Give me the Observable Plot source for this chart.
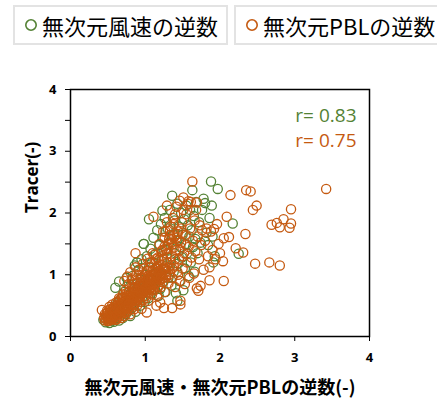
<!DOCTYPE html>
<html><head><meta charset="utf-8">
<script src="https://cdn.jsdelivr.net/npm/d3@7"></script>
<script src="https://cdn.jsdelivr.net/npm/@observablehq/plot@0.6"></script>
<style>
body{margin:0;background:#fff;width:437px;height:400px;overflow:hidden;font-family:"Noto Sans CJK JP",sans-serif;}
#legend{position:relative;height:50px;}
.lg{position:absolute;top:5px;height:36px;border:2px solid #e3e3e3;display:flex;align-items:center;font-size:22px;color:#000;white-space:nowrap;box-sizing:content-box;}
.lg svg{margin:0 4px 0 9px;}
</style></head>
<body>
<div id="legend"></div>
<div id="chart"></div>
<script>
const seriesNames = ["無次元風速の逆数", "無次元PBLの逆数"];
const seriesColors = ["#548235", "#C55A11"];
const rLabels = ["r= 0.83", "r= 0.75"];
const xTicks = [0, 1, 2, 3, 4];
const yTicks = [0, 0.5, 1, 1.5, 2, 2.5, 3, 3.5, 4];

// 無次元風速の逆数 (green)
const windX = [0.44,0.47,0.50,0.52,0.54,0.56,0.58,0.60,0.60,0.62,0.63,0.65,0.65,0.66,0.68,0.70,0.70,0.72,0.74,0.75,0.76,0.78,0.79,0.80,0.81,0.83,0.84,0.85,0.86,0.87,0.88,0.89,0.90,0.91,0.92,0.93,0.94,0.95,0.96,0.97,0.98,0.99,1.00,1.01,1.02,1.03,1.04,1.05,1.05,1.06,1.07,1.08,1.09,1.10,1.11,1.12,1.13,1.14,1.15,1.16,1.17,1.18,1.19,1.20,1.21,1.22,1.23,1.23,1.24,1.25,1.26,1.27,1.28,1.29,1.30,1.31,1.32,1.33,1.34,1.35,1.36,1.37,1.38,1.39,1.40,1.41,1.42,1.43,1.44,1.45,1.46,1.47,1.48,1.49,1.50,1.51,1.52,1.53,1.54,1.55,1.56,1.57,1.58,1.59,1.60,1.61,1.62,1.63,1.64,1.65,1.66,1.67,1.68,1.70,1.72,1.74,1.76,1.78,1.80,1.82,1.84,1.86,1.88,1.89,1.90,1.91,1.93,1.97,2.17,2.25,1.43,1.20,0.89,0.98];
const windY = [0.27,0.23,0.30,0.22,0.36,0.26,0.24,0.79,0.42,0.30,0.55,0.89,0.26,0.38,0.62,0.30,0.48,0.72,0.36,0.95,0.56,0.42,0.80,0.33,0.64,0.98,0.48,0.72,1.15,0.40,0.86,1.20,0.58,1.08,0.70,0.50,0.92,1.25,0.64,0.80,1.50,0.56,1.00,0.74,1.30,0.86,0.62,1.90,1.12,0.94,1.42,0.70,1.20,0.84,1.60,1.02,0.76,1.34,0.92,1.72,1.10,0.66,1.48,1.00,1.82,1.22,2.04,0.88,1.60,1.08,1.92,0.72,1.40,1.15,1.75,0.95,1.52,2.05,1.25,0.82,2.28,1.65,1.05,1.88,1.35,0.70,1.55,2.15,1.18,1.78,0.90,1.45,2.00,1.28,1.65,0.75,1.90,1.10,1.50,2.12,1.35,1.80,0.98,1.62,2.05,1.20,1.72,2.37,1.45,1.95,1.05,1.58,2.18,1.35,1.85,1.52,2.05,2.23,2.16,1.68,1.48,1.92,2.51,2.12,1.62,1.20,1.30,2.39,1.83,1.34,0.58,0.77,1.20,1.50];

// 無次元PBLの逆数 (orange)
const pblX = [0.42,0.45,0.46,0.47,0.48,0.49,0.50,0.50,0.52,0.52,0.53,0.54,0.55,0.55,0.56,0.57,0.58,0.58,0.60,0.60,0.61,0.62,0.63,0.64,0.65,0.66,0.67,0.68,0.69,0.70,0.70,0.72,0.72,0.73,0.74,0.75,0.76,0.77,0.78,0.79,0.80,0.80,0.81,0.82,0.83,0.84,0.85,0.86,0.87,0.88,0.88,0.89,0.90,0.91,0.92,0.93,0.94,0.95,0.96,0.97,0.98,0.99,1.00,1.00,1.01,1.02,1.03,1.04,1.05,1.06,1.07,1.08,1.09,1.10,1.10,1.11,1.12,1.13,1.14,1.15,1.16,1.17,1.18,1.19,1.20,1.21,1.22,1.23,1.24,1.25,1.26,1.27,1.28,1.29,1.30,1.31,1.32,1.33,1.34,1.35,1.36,1.37,1.38,1.39,1.40,1.41,1.42,1.43,1.44,1.45,1.46,1.47,1.48,1.49,1.50,1.51,1.52,1.53,1.54,1.55,1.56,1.57,1.58,1.59,1.60,1.61,1.62,1.63,1.64,1.65,1.66,1.67,1.68,1.69,1.70,1.71,1.72,1.73,1.74,1.75,1.76,1.78,1.80,1.82,1.84,1.86,1.86,1.88,1.90,1.92,1.94,1.96,1.98,2.00,
 0.48,0.50,0.52,0.53,0.55,0.56,0.57,0.59,0.60,0.61,0.62,0.63,0.64,0.66,0.67,0.68,0.69,0.70,0.71,0.72,0.73,0.74,0.75,0.76,0.77,0.78,0.79,0.80,0.81,0.82,0.83,0.84,0.85,0.86,0.87,0.88,0.89,0.90,0.91,0.92,0.93,0.94,0.95,0.96,0.97,0.98,0.99,1.00,1.01,1.02,1.03,1.04,1.05,1.06,1.07,1.08,1.09,1.10,1.11,1.12,1.13,1.14,1.15,1.16,1.17,1.18,1.19,1.20,1.21,1.22,1.23,1.24,1.25,1.26,1.27,1.28,1.29,1.30,1.31,1.32,1.33,1.34,1.35,1.36,1.38,1.40,1.42,1.44,1.46,1.48,1.50,
 0.46,0.49,0.51,0.54,0.57,0.59,0.62,0.64,0.66,0.69,0.71,0.74,0.76,0.79,0.81,0.84,0.86,0.89,0.91,0.94,0.96,0.99,1.01,1.04,1.06,1.09,1.11,1.14,1.16,1.19,1.21,1.24,0.55,0.61,0.67,0.73,0.78,0.84,0.90,0.96,1.02,1.08,1.13,1.18,1.23,1.28,0.65,0.75,0.85,0.95,1.05,1.15,
 0.72,0.76,0.80,0.83,0.87,0.92,0.97,1.03,1.07,1.12,1.17,1.22,1.26,1.31,1.35,1.39,1.43,1.27,1.33,1.38,1.45,1.50,1.55,
 1.02,1.25,1.36,1.47,1.47,1.20,1.15,0.95,0.87,1.11,1.29,1.51,1.58,1.69,1.40,
 3.42,2.95,2.93,2.95,2.85,2.80,2.76,2.69,2.80,2.66,2.47,2.49,2.44,2.41,2.35,2.14,2.09,2.12,2.05,2.04,2.05,2.34,2.31,2.21];
const pblY = [0.43,0.30,0.26,0.34,0.28,0.38,0.31,0.25,0.48,0.29,0.35,0.27,0.41,0.32,0.52,0.29,0.37,0.45,0.33,0.27,0.55,0.40,0.31,0.47,0.36,0.60,0.42,0.30,0.52,0.38,0.68,0.45,0.33,0.58,0.75,0.50,0.40,0.63,0.85,0.47,0.56,0.36,0.70,0.92,0.52,0.62,0.44,0.78,0.58,0.68,1.00,0.50,0.87,0.62,0.74,0.56,0.95,0.68,0.82,0.60,1.10,0.76,0.88,0.66,1.02,0.72,0.94,0.58,0.84,1.20,0.78,0.98,0.68,0.90,1.35,1.08,0.75,0.84,1.25,0.96,0.66,1.14,0.88,1.50,1.02,0.80,1.30,0.94,1.70,1.10,0.72,1.42,1.00,1.85,1.20,0.86,1.58,1.05,1.78,1.30,0.95,1.92,1.15,1.62,0.80,1.40,2.10,1.05,1.70,1.25,2.20,0.90,1.52,1.85,1.10,2.05,1.35,0.85,1.65,1.98,1.20,2.15,1.45,0.95,1.75,2.18,1.28,2.51,1.55,1.02,1.88,1.38,2.05,0.78,1.62,0.74,1.25,1.80,0.82,1.48,1.72,1.08,1.55,1.75,1.30,1.12,0.91,1.70,1.40,1.74,1.25,1.82,1.50,1.35,
 0.33,0.40,0.26,0.44,0.30,0.38,0.47,0.33,0.42,0.50,0.28,0.37,0.55,0.45,0.34,0.52,0.63,0.42,0.56,0.64,0.40,0.50,0.66,0.58,0.46,0.72,0.54,0.64,0.44,0.78,0.60,0.70,0.52,0.86,0.66,0.76,0.58,0.92,0.70,0.82,0.64,0.88,0.76,1.00,0.70,0.86,0.94,0.78,0.62,1.06,0.82,0.98,0.72,0.90,1.12,0.84,1.00,0.76,0.94,1.18,1.04,0.86,1.10,0.98,0.80,1.24,1.06,0.92,1.16,1.02,1.40,0.88,1.24,1.60,1.10,0.96,1.34,1.50,1.12,1.00,1.72,1.20,1.52,1.10,1.82,1.25,1.60,1.00,1.40,1.75,1.30,
 0.36,0.42,0.35,0.40,0.46,0.39,0.49,0.44,0.53,0.57,0.50,0.61,0.56,0.66,0.60,0.71,0.64,0.76,0.69,0.81,0.74,0.85,0.79,0.90,0.84,0.95,0.88,1.00,0.93,1.05,0.98,1.08,0.28,0.34,0.41,0.47,0.52,0.58,0.65,0.72,0.76,0.80,0.88,0.95,1.00,1.05,0.62,0.70,0.80,0.86,0.95,1.02,
 0.90,0.97,1.04,0.94,1.12,1.08,1.18,1.26,1.20,1.32,1.28,1.38,1.46,1.42,1.58,1.50,1.66,1.70,1.64,1.44,1.56,1.68,1.48,
 0.39,0.46,0.46,0.52,0.58,0.55,0.50,0.45,1.35,1.94,2.12,2.25,2.19,2.17,1.98,
 2.39,2.06,1.76,1.83,1.90,1.77,1.84,1.81,1.15,1.20,1.18,2.12,2.05,2.35,2.37,2.29,1.94,1.61,1.59,1.22,0.90,1.66,1.36,1.43];

const wind = windX.map((x, i) => ({x, y: windY[i]}));
const pbl = pblX.map((x, i) => ({x, y: pblY[i]}));

// legend
const legend = document.getElementById("legend");
const boxPos = [{left: 13, width: 211}, {left: 234, width: 220}];
seriesNames.forEach((name, i) => {
  const d = document.createElement("div");
  d.className = "lg";
  d.style.left = boxPos[i].left + "px";
  d.style.width = boxPos[i].width + "px";
  d.innerHTML = `<svg width="14" height="14"><circle cx="7" cy="7" r="5.2" fill="none" stroke="${seriesColors[i]}" stroke-width="1.6"/></svg><span>${name}</span>`;
  legend.appendChild(d);
});

const chart = Plot.plot({
  width: 437,
  height: 350,
  marginTop: 39,
  marginBottom: 64,
  marginLeft: 70,
  marginRight: 68,
  style: {fontFamily: "'Noto Sans CJK JP', sans-serif", fontSize: "13px", color: "#000", background: "#fff"},
  x: {domain: [0, 4]},
  y: {domain: [0, 4]},
  marks: [
    Plot.dot(wind, {x: "x", y: "y", r: 4.6, stroke: seriesColors[0], strokeWidth: 1.3, fill: "none"}),
    Plot.dot(pbl, {x: "x", y: "y", r: 4.6, stroke: seriesColors[1], strokeWidth: 1.3, fill: "none"}),
    Plot.frame({stroke: "#000", strokeWidth: 1.5}),
    Plot.axisX({ticks: xTicks, tickSize: 5, tickPadding: 11, label: null, tickFormat: d => String(d), fontWeight: "bold", fontSize: 13, fontFamily: "'Open Sans', sans-serif"}),
    Plot.axisY({ticks: yTicks, tickSize: 5, tickPadding: 9, label: null, tickFormat: d => Number.isInteger(d) ? String(d) : "", fontWeight: "bold", fontSize: 13, fontFamily: "'Open Sans', sans-serif"}),
    Plot.text([rLabels[0]], {text: d => d, frameAnchor: "top-right", dx: -13, dy: 26, lineAnchor: "middle", textAnchor: "end", fill: seriesColors[0], fontSize: 19, fontFamily: "'Open Sans', sans-serif"}),
    Plot.text([rLabels[1]], {text: d => d, frameAnchor: "top-right", dx: -13, dy: 51, lineAnchor: "middle", textAnchor: "end", fill: seriesColors[1], fontSize: 19, fontFamily: "'Open Sans', sans-serif"}),
    Plot.text(["無次元風速・無次元PBLの逆数(-)"], {text: d => d, frameAnchor: "bottom", dy: 52, lineAnchor: "middle", fontSize: 18, fontWeight: "bold", fill: "#000"}),
    Plot.text(["Tracer(-)"], {text: d => d, frameAnchor: "left", dx: -38, rotate: -90, lineAnchor: "middle", fontSize: 17, fontWeight: "bold", fill: "#000", fontFamily: "'Open Sans', sans-serif"})
  ]
});
document.getElementById("chart").appendChild(chart);
</script>
</body></html>
